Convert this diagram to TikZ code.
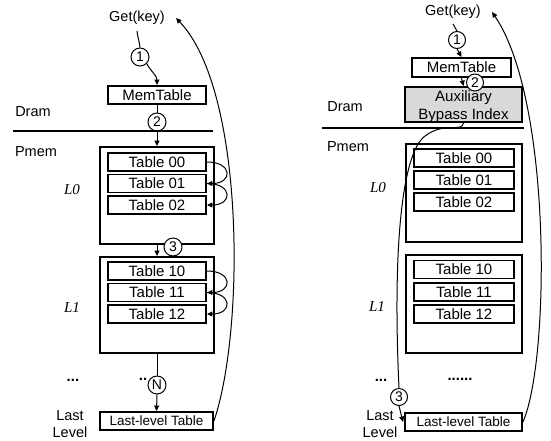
\documentclass[tikz,border=0pt]{standalone}
\usepackage{fontspec}
\setmainfont{Liberation Sans}
\newfontfamily\lvfont{Liberation Serif}
\usetikzlibrary{arrows.meta}
\begin{document}
\begin{tikzpicture}[x=1pt,y=-1pt,
  every node/.style={font=\fontsize{15}{17}\selectfont, inner sep=0pt},
  tbl/.style={draw, line width=1.9pt, minimum width=98pt, minimum height=18pt, fill=white},
  tblr/.style={tbl, minimum width=100pt},
  lvl/.style={draw, line width=1.9pt, minimum width=114pt},
  lvlr/.style={lvl, minimum width=116pt},
  num/.style={draw, circle, line width=1pt, fill=white, minimum size=18pt, font=\fontsize{14}{15}\selectfont},
  numr/.style={num, minimum size=17pt},
  lbl/.style={font=\fontsize{14.5}{16}\selectfont},
  dts/.style={font=\fontsize{15}{16}\selectfont\bfseries},
  lv/.style={font=\fontsize{15}{16}\lvfont\itshape},
  arr/.style={line width=1pt, -{Triangle[length=5.5pt,width=5pt]}},
  ln/.style={line width=1pt},
  sep/.style={line width=1.4pt}
]
\useasboundingbox (0,0) rectangle (551,440);

% ---------------- left: conventional lookup ----------------
\node[lbl] (get1) at (137,18) {Get(key)};
\node[num] (c1) at (140,57) {1};
\node[tbl] (mem1) at (157,95) {MemTable};
\node[num] (c2) at (157,122) {2};
\node[lbl] (dram1) at (33,112) {Dram};
\node[lbl] (pmem1) at (36,152) {Pmem};
\coordinate (s1a) at (13,131);
\coordinate (s1b) at (213,131);
\draw[sep] (s1a) -- (s1b);

\node[lvl, minimum height=97pt] (l0a) at (157,195.5) {};
\node[tbl] (t00a) at (157,162) {Table 00};
\node[tbl] (t01a) at (157,183.5) {Table 01};
\node[tbl] (t02a) at (157,205) {Table 02};
\node[lv] (l0la) at (72,190) {L0};

\node[lvl, minimum height=96pt] (l1a) at (157,305) {};
\node[tbl] (t10a) at (157,271) {Table 10};
\node[tbl] (t11a) at (157,292.5) {Table 11};
\node[tbl] (t12a) at (157,314) {Table 12};
\node[lv] (l1la) at (72,308) {L1};

\node[dts] (dotsa) at (73,380) {...};
\node[dts] (ndots) at (143,379) {..};
\node[num] (cN) at (157,385) {N};
\node[num] (c3) at (173,247) {3};

\node[tbl, minimum width=113pt, font=\fontsize{13.5}{15}\selectfont] (last1) at (156.5,421) {Last-level Table};
\node[lbl, align=center, font=\fontsize{14.5}{17}\selectfont] (lastl1) at (70,424) {Last\\Level};

\draw[ln] ([yshift=-6pt]get1.south) to[out=-85,in=95] (c1.north);
\draw[arr] (c1.south east) to[out=-60,in=90] (mem1.north);
\draw[ln] (mem1.south) -- (c2.north);
\draw[arr] (c2.south) -- (l0a.north);
\draw[arr] (t00a.east) .. controls ([xshift=26pt]t00a.east) and ([xshift=26pt]t01a.east) .. (t01a.east);
\draw[arr] (t01a.east) .. controls ([xshift=26pt]t01a.east) and ([xshift=26pt]t02a.east) .. (t02a.east);
\draw[arr] (l0a.south) -- (l1a.north);
\draw[arr] (t10a.east) .. controls ([xshift=26pt]t10a.east) and ([xshift=26pt]t11a.east) .. (t11a.east);
\draw[arr] (t11a.east) .. controls ([xshift=26pt]t11a.east) and ([xshift=26pt]t12a.east) .. (t12a.east);
\draw[ln] (l1a.south) -- (cN.north);
\draw[arr] (cN.south) -- (last1.north);
\draw[arr] (last1.east) .. controls (245,330) and (245,90) .. ([xshift=11pt]get1.east);

% ---------------- right: lookup with the bypass index ----------------
\node[lbl] (get2) at (453,12) {Get(key)};
\node[numr] (c1r) at (457,40) {1};
\node[tblr, minimum width=99pt, minimum height=19pt] (mem2) at (461.5,67.5) {MemTable};
\node[draw, line width=1.9pt, fill=black!15, minimum width=117pt, minimum height=35pt] (abi) at (463.5,104.5) {};
\node[align=center, font=\fontsize{15}{18}\selectfont] (abitxt) at (463.5,106.5) {Auxiliary\\Bypass Index};
\draw[arr] (mem2.south) -- (abi.north);
\node[numr] (c2r) at (475,82.5) {2};
\node[lbl] (dram2) at (345,107) {Dram};
\node[lbl] (pmem2) at (348,147) {Pmem};
\coordinate (s2a) at (322,128);
\coordinate (s2b) at (524,128);
\draw[sep] (s2a) -- (s2b);

\node[lvlr, minimum height=98pt] (l0b) at (464,193) {};
\node[tblr] (t00b) at (464,158) {Table 00};
\node[tblr] (t01b) at (464,180) {Table 01};
\node[tblr] (t02b) at (464,202) {Table 02};
\node[lv] (l0lb) at (378,188) {L0};

\node[lvlr, minimum height=98pt] (l1b) at (464,304) {};
\node[tblr] (t10b) at (464,269.5) {Table 10};
\node[tblr] (t11b) at (464,292) {Table 11};
\node[tblr] (t12b) at (464,314) {Table 12};
\node[lv] (l1lb) at (377,307) {L1};

\node[dts] (dotsb) at (381,380) {...};
\node[dts] (dotsc) at (460,379) {......};
\node[numr] (c3r) at (399,397) {3};

\node[tbl, minimum width=117pt, font=\fontsize{13.5}{15}\selectfont] (last2) at (463.5,422) {Last-level Table};
\node[lbl, align=center, font=\fontsize{14.5}{17}\selectfont] (lastl2) at (380,424) {Last\\Level};

\draw[ln] ([yshift=-5pt]get2.south) to[out=-85,in=95] (c1r.north);
\draw[arr] (c1r.south) -- (mem2.north);
\draw[ln] (abi.south) .. controls (462,133) and (445,121) .. (425,136)
          .. controls (400,155) and (393,260) .. (c3r.north);
\draw[arr] (c3r.south) -- ([xshift=-1pt]last2.west);
\draw[arr] (last2.east) .. controls (550,360) and (552,100) .. ([xshift=11pt]get2.east);
\end{tikzpicture}
\end{document}
